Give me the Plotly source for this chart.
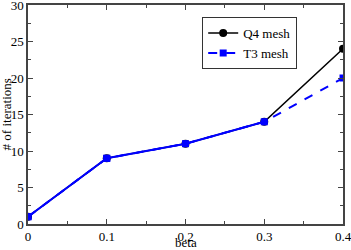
import plotly.graph_objects as go

beta = [0.0, 0.1, 0.2, 0.3, 0.4]
q4_iters = [1, 9, 11, 14, 24]
t3_iters = [1, 9, 11, 14, 20]
n_shared = 4  # points where both meshes coincide
x_ticks = [0.0, 0.1, 0.2, 0.3, 0.4]
x_ticktext = ["0", "0.1", "0.2", "0.3", "0.4"]
y_ticks = [0, 5, 10, 15, 20, 25, 30]

font = "'Liberation Serif', 'Times New Roman', serif"

fig = go.Figure()
fig.add_trace(go.Scatter(x=beta, y=q4_iters, name="Q4 mesh", mode="lines+markers",
                         line=dict(color="black", width=1.5),
                         marker=dict(symbol="circle", size=8, color="black")))
fig.add_trace(go.Scatter(x=beta, y=t3_iters, name="T3 mesh", mode="lines+markers",
                         line=dict(color="#0000ff", width=2, dash="dash"),
                         marker=dict(symbol="square", size=7, color="#0000ff")))
fig.add_trace(go.Scatter(x=beta[:n_shared], y=t3_iters[:n_shared], showlegend=False,
                         mode="lines+markers",
                         line=dict(color="#0000ff", width=2),
                         marker=dict(symbol=["square", "square", "circle", "circle"],
                                     size=7, color="#0000ff")))

axis_common = dict(showgrid=False, zeroline=False, showline=True, linecolor="#444444",
                   linewidth=1.5, mirror="ticks", ticks="inside", ticklen=5,
                   tickcolor="#444444", automargin=False, ticklabeloverflow="allow",
                   tickfont=dict(family=font, size=13, color="black"))

fig.update_xaxes(range=[0, 0.4], tickvals=x_ticks, ticktext=x_ticktext, ticklabelstandoff=0,
                 minor=dict(dtick=0.05, ticks="inside", ticklen=3, tickcolor="#444444"),
                 **axis_common)
fig.update_yaxes(range=[0, 30], tickvals=y_ticks, ticklabelstandoff=0,
                 minor=dict(dtick=2.5, ticks="inside", ticklen=3, tickcolor="#444444"),
                 **axis_common)

title_font = dict(family=font, size=13, color="black")
fig.add_annotation(text="beta", xref="paper", yref="paper", x=0.5, y=-0.086,
                   xanchor="center", yanchor="middle", showarrow=False, font=title_font)
fig.add_annotation(text="# of iterations", xref="paper", yref="paper", x=-0.067, y=0.5,
                   xanchor="center", yanchor="middle", textangle=-90, showarrow=False,
                   font=title_font)

fig.update_layout(width=351, height=250, margin=dict(l=28, r=8, t=5, b=26, autoexpand=False),
                  plot_bgcolor="white", paper_bgcolor="white",
                  legend=dict(x=0.553, y=0.945, xanchor="left", yanchor="top",
                              bgcolor="white", bordercolor="#333333", borderwidth=1,
                              font=dict(family=font, size=13, color="black"),
                              tracegroupgap=0, itemwidth=30),
                  font=dict(family=font))

fig.write_html("out.html", config={"displayModeBar": False},
               post_script="document.body.style.margin='0';")
